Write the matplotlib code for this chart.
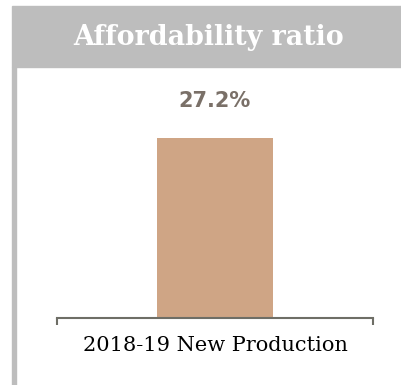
import matplotlib
matplotlib.use("Agg")
import matplotlib.pyplot as plt
from matplotlib.patches import Rectangle

# chart data
categories = ["2018-19 New Production"]
ratio_pct = [27.2]
title = "Affordability ratio"

W, H = 402, 385
fig = plt.figure(figsize=(W / 100, H / 100), dpi=100)
fig.patch.set_facecolor("white")

def fx(px):
    return px / W

def fy(py):
    return 1 - py / H

# header band and left border
fig.patches.append(Rectangle((fx(12), fy(67)), fx(402) - fx(12), fy(6) - fy(67),
                             transform=fig.transFigure, color="#bdbdbd", zorder=0))
fig.patches.append(Rectangle((fx(12), 0), fx(4), fy(67),
                             transform=fig.transFigure, color="#bdbdbd", zorder=0))
fig.text(fx(209), fy(37.5), title, ha="center", va="center", color="white",
         fontsize=19.4, fontweight="bold", family="DejaVu Serif")

# axes: baseline at y=318px, spans 57..373px
ax = fig.add_axes([fx(57), fy(318), fx(373) - fx(57), fy(80) - fy(318)])
ax.set_xlim(-0.5, 0.5)
ax.set_ylim(0, 36)
x = list(range(len(categories)))
bars = ax.bar(x, ratio_pct, width=0.37, color="#cfa585")

for rect, v in zip(bars, ratio_pct):
    ax.annotate(f"{v:.1f}%", (rect.get_x() + rect.get_width() / 2, v),
                xytext=(0, 27), textcoords="offset points", ha="center", va="center",
                fontsize=15, fontweight="bold", color="#7a7068", family="DejaVu Sans")

for s in ["top", "right", "left"]:
    ax.spines[s].set_visible(False)
ax.spines["bottom"].set_color("#6e6e66")
ax.spines["bottom"].set_linewidth(1.5)
ax.set_yticks([])
ax.set_xticks(x)
ax.set_xticklabels(categories, family="DejaVu Serif", fontsize=15, color="black")
ax.tick_params(axis="x", which="major", length=0, pad=13)
ax.set_xticks([-0.5, 0.5], minor=True)
ax.tick_params(axis="x", which="minor", length=5, width=1.5, color="#6e6e66")
ax.patch.set_alpha(0)

fig.savefig("out.png", dpi=100)
